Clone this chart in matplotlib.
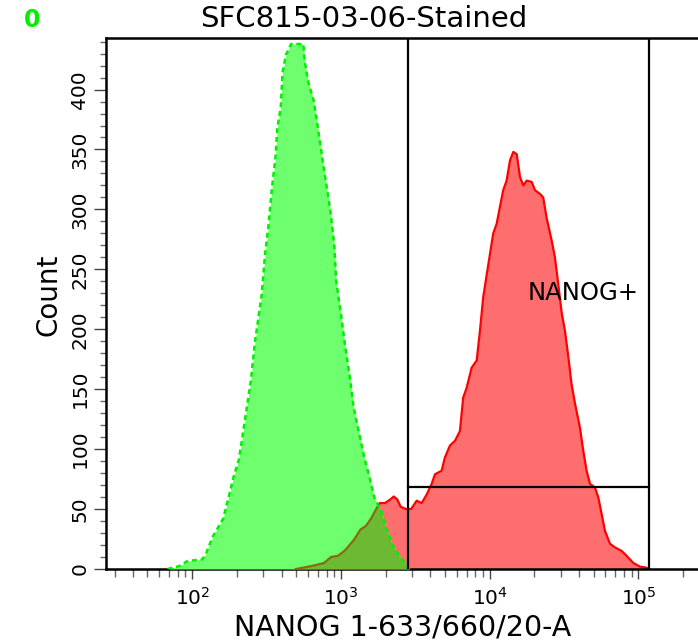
import numpy as np
import matplotlib
matplotlib.use("Agg")
import matplotlib.pyplot as plt
from matplotlib.patches import Polygon
from matplotlib.ticker import LogLocator, FixedLocator, NullFormatter

# ---- data (log10 of NANOG intensity, counts) ----
green_log = [1.833, 1.915, 1.969, 2.067, 2.091, 2.138, 2.208, 2.243, 2.278, 2.313,
             2.337, 2.360, 2.395, 2.419, 2.443, 2.466, 2.490, 2.512, 2.536, 2.560,
             2.572, 2.595, 2.607, 2.630, 2.665, 2.747, 2.757, 2.781, 2.816, 2.839,
             2.863, 2.886, 2.909, 2.933, 2.956, 2.968, 3.003, 3.027, 3.062, 3.085,
             3.121, 3.155, 3.191, 3.226, 3.273, 3.308, 3.355, 3.401, 3.461]
green_cnt = [0, 2.5, 6.7, 8, 12.5, 27, 42, 59, 77, 91,
             110, 129, 158, 187, 208, 228, 263, 286, 318, 344,
             368, 385, 414, 429, 438, 438, 423, 406, 391, 373,
             353, 333, 315, 295, 269, 240, 210, 187, 158, 135,
             114, 94, 77, 59, 48, 33, 18, 9.6, 0]

red_log = [2.697, 2.804, 2.886, 2.933, 2.980, 3.027, 3.085, 3.132, 3.168, 3.202,
           3.237, 3.261, 3.296, 3.332, 3.355, 3.379, 3.401, 3.437, 3.472, 3.509,
           3.543, 3.576, 3.610, 3.632, 3.677, 3.699, 3.733, 3.767, 3.800, 3.822,
           3.845, 3.879, 3.913, 3.935, 3.957, 3.991, 4.024, 4.047, 4.069, 4.091,
           4.114, 4.137, 4.159, 4.182, 4.204, 4.226, 4.249, 4.282, 4.305, 4.338,
           4.360, 4.383, 4.417, 4.439, 4.461, 4.484, 4.506, 4.529, 4.551, 4.574,
           4.607, 4.629, 4.652, 4.675, 4.708, 4.730, 4.753, 4.775, 4.809, 4.843,
           4.888, 4.921, 4.966, 5.011, 5.056, 5.071]
red_cnt = [0, 2.5, 5, 10, 11, 15.5, 24, 33, 36, 42,
           50, 55, 55, 58, 60.5, 58, 52, 50, 50, 57,
           55, 62, 71, 79, 82, 93, 103, 107, 115, 143,
           151, 168, 174, 199, 227, 254, 280, 288, 302, 316,
           324, 341, 348, 346, 327, 320, 324, 323, 316, 313,
           310, 293, 274, 260, 238, 214, 199, 177, 154, 138,
           118, 99, 82, 71, 68, 60, 46, 32, 21, 18,
           15, 11, 5, 2, 1, 0]

gate_lo, gate_hi, gate_level = 2810, 1.17e5, 68.5
gate_name = "NANOG+"
title = "SFC815-03-06-Stained"
xlabel = "NANOG 1-633/660/20-A"
ylabel = "Count"
panel_tag = "0"

# ---- styles ----
GREEN_FILL = "#6dff6d"
GREEN_EDGE = "#00f000"
RED_FILL = "#ff6e6e"
RED_EDGE = "#ff0000"
OLIVE = "#6cba33"
BROWN = "#8a6a10"

plt.rcParams["font.family"] = ["DejaVu Sans"]

W, H = 698, 643
fig = plt.figure(figsize=(W / 100, H / 100), dpi=100)
left_px, right_px, top_px, bot_px = 106, 720, 38, 569
ax = fig.add_axes([left_px / W, 1 - bot_px / H, (right_px - left_px) / W, (bot_px - top_px) / H])

gx = 10 ** np.array(green_log)
gy = np.array(green_cnt)
rx = 10 ** np.array(red_log)
ry = np.array(red_cnt)

ax.set_xscale("log")
ax.set_xlim(26.3, 3.54e5)
ax.set_ylim(0, 443)

# red fill & edge
ax.fill_between(rx, ry, 0, color=RED_FILL, lw=0, zorder=1)
ax.plot(rx, ry, color=RED_EDGE, lw=1.6, zorder=2)
# green fill covers
ax.fill_between(gx, gy, 0, color=GREEN_FILL, lw=0, zorder=3)
# overlap (red clipped by green)
gpoly = Polygon(np.column_stack([np.r_[gx[0], gx, gx[-1]], np.r_[0, gy, 0]]),
                closed=True, transform=ax.transData, facecolor="none", edgecolor="none")
ov = ax.fill_between(rx, ry, 0, color=OLIVE, lw=0, zorder=4)
ov.set_clip_path(gpoly)
bl, = ax.plot(rx, ry, color=BROWN, lw=1.6, zorder=5)
bl.set_clip_path(gpoly)
ax.plot(gx, gy, color=GREEN_EDGE, lw=1.8, ls=(0, (2, 1.5)), zorder=6)

# gate
ax.axvline(gate_lo, color="black", lw=1.6, zorder=7)
ax.axvline(gate_hi, color="black", lw=1.6, zorder=7)
ax.plot([gate_lo, gate_hi], [gate_level, gate_level], color="black", lw=1.6, zorder=7)
ax.text(10 ** 4.255, 230, gate_name, fontsize=17.5, ha="left", va="center", zorder=8)

# spines
for s in ["left", "bottom", "top"]:
    ax.spines[s].set_linewidth(1.8)
ax.spines["right"].set_visible(False)

# ticks
ax.xaxis.set_minor_locator(LogLocator(base=10, subs=np.arange(2, 10), numticks=20))
ax.xaxis.set_minor_formatter(NullFormatter())
ax.set_xticks([1e2, 1e3, 1e4, 1e5])
ax.set_xticklabels([r"$10^{2}$", r"$10^{3}$", r"$10^{4}$", r"$10^{5}$"])
ax.tick_params(axis="x", which="major", length=7, width=1, pad=6, labelsize=14.5, color="#444444")
ax.tick_params(axis="x", which="minor", length=6, width=1, color="#666666")
ax.set_yticks(np.arange(0, 401, 50))
ax.yaxis.set_minor_locator(FixedLocator(np.arange(0, 441, 10)))
ax.tick_params(axis="y", which="major", length=9, width=1, pad=3, labelsize=14.5, color="#444444")
ax.tick_params(axis="y", which="minor", length=4, width=1, color="#666666")
plt.setp(ax.get_yticklabels(), rotation=90, va="center")

# texts
fig.text(364 / W, 1 - 19 / H, title, fontsize=21, ha="center", va="center")
fig.text(403 / W, 1 - 627 / H, xlabel, fontsize=20.5, ha="center", va="center")
fig.text(48 / W, 1 - 295 / H, ylabel, fontsize=20, ha="center", va="center", rotation=90)
fig.text(32 / W, 1 - 20 / H, panel_tag, fontsize=17, fontweight="bold", color="#00ee00",
         ha="center", va="center")

fig.savefig("out.png", dpi=100)
